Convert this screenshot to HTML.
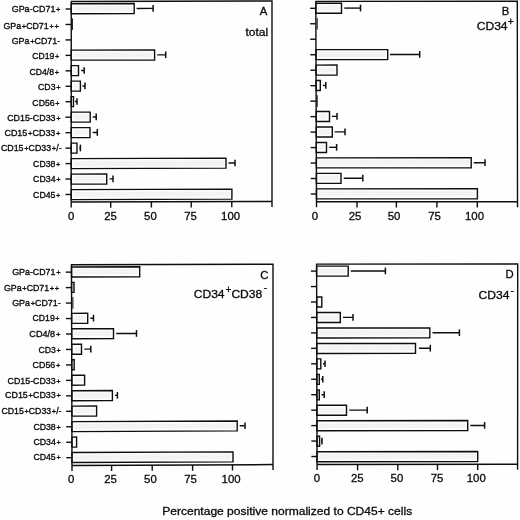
<!DOCTYPE html>
<html><head><meta charset="utf-8"><title>Figure</title>
<style>
html,body{margin:0;padding:0;background:#fefefe;}
body{width:520px;height:520px;overflow:hidden;}
svg{display:block;}
text{font-family:"Liberation Sans",Arial,Helvetica,sans-serif;fill:#0a0a0a;stroke:#0a0a0a;stroke-width:0.3px;}
.ln{stroke:#0e0e0e;}
.yl{font-size:9.0px;stroke-width:0.33px;}
.pl{font-size:7.6px;}
.xt{font-size:11.4px;}
.pt{font-size:11.3px;}
.sup{font-size:10.2px;}
</style></head>
<body>
<svg width="520" height="520" viewBox="0 0 520 520">
<defs><pattern id="dots" width="3" height="2.45" patternUnits="userSpaceOnUse"><rect width="3" height="2.45" fill="#f6f6f6"/><rect x="0.2" y="0.3" width="1.9" height="1.3" fill="#eeeeee"/></pattern></defs>
<rect x="0" y="0" width="520" height="520" fill="#fefefe"/>
<g class="ln" id="pA">
<path d="M71.25 3.70L134.20 3.54L134.20 13.54L71.25 13.70Z" fill="#fcfcfc" stroke-width="1.4"/>
<path d="M73.55 6.09L131.90 5.95L131.90 10.85L73.55 10.99Z" fill="url(#dots)" stroke="none"/>
<line x1="136.60" y1="8.44" x2="153.10" y2="8.39" stroke-width="1.4"/>
<line x1="153.10" y1="4.99" x2="153.10" y2="11.69" stroke-width="1.5"/>
<line x1="65.55" y1="9.00" x2="71.25" y2="9.00" stroke-width="1.4"/>
<line x1="72.40" y1="18.39" x2="72.40" y2="29.99" stroke-width="1.0"/>
<line x1="65.54" y1="24.46" x2="71.24" y2="24.46" stroke-width="1.4"/>
<line x1="65.54" y1="39.92" x2="71.24" y2="39.92" stroke-width="1.4"/>
<path d="M71.24 50.17L154.60 49.96L154.60 59.96L71.24 60.17Z" fill="#fcfcfc" stroke-width="1.4"/>
<path d="M73.54 52.57L152.30 52.36L152.30 57.26L73.54 57.47Z" fill="url(#dots)" stroke="none"/>
<line x1="157.20" y1="54.85" x2="165.70" y2="54.83" stroke-width="1.4"/>
<line x1="165.70" y1="51.43" x2="165.70" y2="58.13" stroke-width="1.5"/>
<line x1="65.54" y1="55.38" x2="71.24" y2="55.38" stroke-width="1.4"/>
<path d="M71.23 65.67L78.50 65.65L78.50 75.65L71.23 75.67Z" fill="#fcfcfc" stroke-width="1.4"/>
<path d="M73.53 68.06L76.20 68.05L76.20 72.95L73.53 72.96Z" fill="url(#dots)" stroke="none"/>
<line x1="81.20" y1="70.54" x2="84.20" y2="70.53" stroke-width="1.4"/>
<line x1="84.20" y1="67.13" x2="84.20" y2="73.83" stroke-width="1.5"/>
<line x1="65.53" y1="70.83" x2="71.23" y2="70.83" stroke-width="1.4"/>
<path d="M71.23 81.16L80.40 81.13L80.40 91.13L71.23 91.16Z" fill="#fcfcfc" stroke-width="1.4"/>
<path d="M73.53 83.55L78.10 83.54L78.10 88.44L73.53 88.45Z" fill="url(#dots)" stroke="none"/>
<line x1="82.40" y1="86.03" x2="85.00" y2="86.02" stroke-width="1.4"/>
<line x1="85.00" y1="82.62" x2="85.00" y2="89.32" stroke-width="1.5"/>
<line x1="65.53" y1="86.29" x2="71.23" y2="86.29" stroke-width="1.4"/>
<path d="M71.23 96.65L73.50 96.64L73.50 106.64L71.23 106.65Z" fill="#fcfcfc" stroke-width="1.4"/>
<line x1="75.00" y1="101.54" x2="77.00" y2="101.53" stroke-width="1.4"/>
<line x1="77.00" y1="98.13" x2="77.00" y2="104.83" stroke-width="1.5"/>
<line x1="65.53" y1="101.75" x2="71.23" y2="101.75" stroke-width="1.4"/>
<path d="M71.22 112.14L90.20 112.09L90.20 122.09L71.22 122.14Z" fill="#fcfcfc" stroke-width="1.4"/>
<path d="M73.52 114.54L87.90 114.50L87.90 119.40L73.52 119.44Z" fill="url(#dots)" stroke="none"/>
<line x1="92.70" y1="116.98" x2="96.20" y2="116.97" stroke-width="1.4"/>
<line x1="96.20" y1="113.57" x2="96.20" y2="120.27" stroke-width="1.5"/>
<line x1="65.52" y1="117.21" x2="71.22" y2="117.21" stroke-width="1.4"/>
<path d="M71.22 127.63L90.00 127.58L90.00 137.58L71.22 137.63Z" fill="#fcfcfc" stroke-width="1.4"/>
<path d="M73.52 130.03L87.70 129.99L87.70 134.89L73.52 134.93Z" fill="url(#dots)" stroke="none"/>
<line x1="92.70" y1="132.47" x2="97.30" y2="132.46" stroke-width="1.4"/>
<line x1="97.30" y1="129.06" x2="97.30" y2="135.76" stroke-width="1.5"/>
<line x1="65.52" y1="132.67" x2="71.22" y2="132.67" stroke-width="1.4"/>
<path d="M71.21 143.12L77.00 143.11L77.00 153.11L71.21 153.12Z" fill="#fcfcfc" stroke-width="1.4"/>
<line x1="79.30" y1="148.00" x2="80.40" y2="148.00" stroke-width="1.4"/>
<line x1="80.40" y1="144.60" x2="80.40" y2="151.30" stroke-width="1.5"/>
<line x1="65.51" y1="148.12" x2="71.21" y2="148.12" stroke-width="1.4"/>
<path d="M71.21 158.62L226.00 158.17L226.00 168.17L71.21 168.62Z" fill="#fcfcfc" stroke-width="1.4"/>
<path d="M73.51 161.01L223.70 160.58L223.70 165.47L73.51 165.91Z" fill="url(#dots)" stroke="none"/>
<line x1="228.50" y1="163.06" x2="235.00" y2="163.04" stroke-width="1.4"/>
<line x1="235.00" y1="159.64" x2="235.00" y2="166.34" stroke-width="1.5"/>
<line x1="65.51" y1="163.58" x2="71.21" y2="163.58" stroke-width="1.4"/>
<path d="M71.21 174.11L106.70 174.00L106.70 184.00L71.21 184.11Z" fill="#fcfcfc" stroke-width="1.4"/>
<path d="M73.51 176.50L104.40 176.41L104.40 181.31L73.51 181.40Z" fill="url(#dots)" stroke="none"/>
<line x1="109.60" y1="178.90" x2="113.00" y2="178.89" stroke-width="1.4"/>
<line x1="113.00" y1="175.49" x2="113.00" y2="182.19" stroke-width="1.5"/>
<line x1="65.51" y1="179.04" x2="71.21" y2="179.04" stroke-width="1.4"/>
<path d="M71.20 189.60L231.90 189.12L231.90 199.12L71.20 199.60Z" fill="#fcfcfc" stroke-width="1.4"/>
<path d="M73.50 191.99L229.60 191.53L229.60 196.43L73.50 196.89Z" fill="url(#dots)" stroke="none"/>
<line x1="65.50" y1="194.50" x2="71.20" y2="194.50" stroke-width="1.4"/>
<path d="M71.20 207.60L71.25 1.50L272.00 1.00L272.00 207.00" fill="none" stroke-width="1.4" stroke-linejoin="miter"/>
<line x1="71.20" y1="202.10" x2="272.00" y2="201.50" stroke-width="1.5"/>
<line x1="110.70" y1="201.98" x2="110.71" y2="207.68" stroke-width="1.4"/>
<line x1="151.40" y1="201.86" x2="151.41" y2="207.56" stroke-width="1.4"/>
<line x1="191.20" y1="201.74" x2="191.21" y2="207.44" stroke-width="1.4"/>
<line x1="231.80" y1="201.62" x2="231.81" y2="207.32" stroke-width="1.4"/>
</g>
<text class="xt" x="71.10" y="220.10" text-anchor="middle">0</text>
<text class="xt" x="110.50" y="220.10" text-anchor="middle">25</text>
<text class="xt" x="150.40" y="220.10" text-anchor="middle">50</text>
<text class="xt" x="190.60" y="220.10" text-anchor="middle">75</text>
<text class="xt" x="230.60" y="220.10" text-anchor="middle">100</text>
<text class="yl" id="ylA0" x="11.69" y="12.40" textLength="48.78" lengthAdjust="spacingAndGlyphs">GPa-CD71<tspan class="pl" dx="0.7">+</tspan></text>
<text class="yl" id="ylA1" x="3.44" y="28.85" textLength="55.33" lengthAdjust="spacingAndGlyphs">GPa<tspan class="pl" dx="0.7">+</tspan>CD71<tspan class="pl" dx="0.7">+</tspan><tspan class="pl" dx="0.7">+</tspan></text>
<text class="yl" id="ylA2" x="11.68" y="44.40" textLength="48.52" lengthAdjust="spacingAndGlyphs">GPa<tspan class="pl" dx="0.7">+</tspan>CD71-</text>
<text class="yl" id="ylA3" x="32.18" y="59.00" textLength="27.08" lengthAdjust="spacingAndGlyphs">CD19<tspan class="pl" dx="0.7">+</tspan></text>
<text class="yl" id="ylA4" x="29.41" y="75.40" textLength="29.50" lengthAdjust="spacingAndGlyphs">CD4/8<tspan class="pl" dx="0.7">+</tspan></text>
<text class="yl" id="ylA5" x="38.07" y="89.90" textLength="22.43" lengthAdjust="spacingAndGlyphs">CD3<tspan class="pl" dx="0.7">+</tspan></text>
<text class="yl" id="ylA6" x="32.35" y="105.50" textLength="27.22" lengthAdjust="spacingAndGlyphs">CD56<tspan class="pl" dx="0.7">+</tspan></text>
<text class="yl" id="ylA7" x="7.18" y="120.75" textLength="53.41" lengthAdjust="spacingAndGlyphs">CD15-CD33<tspan class="pl" dx="0.7">+</tspan></text>
<text class="yl" id="ylA8" x="4.45" y="135.90" textLength="56.02" lengthAdjust="spacingAndGlyphs">CD15<tspan class="pl" dx="0.7">+</tspan>CD33<tspan class="pl" dx="0.7">+</tspan></text>
<text class="yl" id="ylA9" x="0.88" y="151.30" textLength="60.70" lengthAdjust="spacingAndGlyphs">CD15<tspan class="pl" dx="0.7">+</tspan>CD33<tspan class="pl" dx="0.7">+</tspan>/-</text>
<text class="yl" id="ylA10" x="33.10" y="166.80" textLength="27.30" lengthAdjust="spacingAndGlyphs">CD38<tspan class="pl" dx="0.7">+</tspan></text>
<text class="yl" id="ylA11" x="33.10" y="181.50" textLength="27.52" lengthAdjust="spacingAndGlyphs">CD34<tspan class="pl" dx="0.7">+</tspan></text>
<text class="yl" id="ylA12" x="33.10" y="197.80" textLength="27.30" lengthAdjust="spacingAndGlyphs">CD45<tspan class="pl" dx="0.7">+</tspan></text>
<g class="ln" id="pB">
<path d="M315.82 3.20L341.50 3.19L341.50 13.19L315.82 13.20Z" fill="#fcfcfc" stroke-width="1.4"/>
<path d="M318.12 5.60L339.20 5.59L339.20 10.49L318.12 10.50Z" fill="url(#dots)" stroke="none"/>
<line x1="344.30" y1="8.09" x2="360.50" y2="8.09" stroke-width="1.4"/>
<line x1="360.50" y1="4.69" x2="360.50" y2="11.39" stroke-width="1.5"/>
<line x1="310.12" y1="8.30" x2="315.82" y2="8.30" stroke-width="1.4"/>
<line x1="317.20" y1="17.87" x2="317.20" y2="29.47" stroke-width="1.0"/>
<line x1="310.18" y1="23.77" x2="315.88" y2="23.77" stroke-width="1.4"/>
<line x1="310.23" y1="39.25" x2="315.93" y2="39.25" stroke-width="1.4"/>
<path d="M315.99 49.61L387.70 49.59L387.70 59.58L315.99 59.61Z" fill="#fcfcfc" stroke-width="1.4"/>
<path d="M318.29 52.01L385.40 51.99L385.40 56.89L318.29 56.91Z" fill="url(#dots)" stroke="none"/>
<line x1="390.00" y1="54.48" x2="419.70" y2="54.47" stroke-width="1.4"/>
<line x1="419.70" y1="51.07" x2="419.70" y2="57.77" stroke-width="1.5"/>
<line x1="310.29" y1="54.72" x2="315.99" y2="54.72" stroke-width="1.4"/>
<path d="M316.04 65.08L337.00 65.07L337.00 75.07L316.04 75.08Z" fill="#fcfcfc" stroke-width="1.4"/>
<path d="M318.34 67.48L334.70 67.48L334.70 72.38L318.34 72.38Z" fill="url(#dots)" stroke="none"/>
<line x1="310.34" y1="70.20" x2="316.04" y2="70.20" stroke-width="1.4"/>
<path d="M316.09 80.55L320.30 80.55L320.30 90.55L316.09 90.55Z" fill="#fcfcfc" stroke-width="1.4"/>
<line x1="322.80" y1="85.45" x2="325.80" y2="85.45" stroke-width="1.4"/>
<line x1="325.80" y1="82.05" x2="325.80" y2="88.75" stroke-width="1.5"/>
<line x1="310.39" y1="85.67" x2="316.09" y2="85.67" stroke-width="1.4"/>
<line x1="317.20" y1="95.23" x2="317.20" y2="106.83" stroke-width="1.0"/>
<line x1="310.45" y1="101.15" x2="316.15" y2="101.15" stroke-width="1.4"/>
<path d="M316.20 111.50L329.50 111.49L329.50 121.49L316.20 121.50Z" fill="#fcfcfc" stroke-width="1.4"/>
<path d="M318.50 113.89L327.20 113.89L327.20 118.79L318.50 118.79Z" fill="url(#dots)" stroke="none"/>
<line x1="332.00" y1="116.39" x2="337.00" y2="116.38" stroke-width="1.4"/>
<line x1="337.00" y1="112.98" x2="337.00" y2="119.68" stroke-width="1.5"/>
<line x1="310.50" y1="116.62" x2="316.20" y2="116.62" stroke-width="1.4"/>
<path d="M316.26 126.97L332.30 126.96L332.30 136.96L316.26 136.97Z" fill="#fcfcfc" stroke-width="1.4"/>
<path d="M318.56 129.37L330.00 129.36L330.00 134.26L318.56 134.27Z" fill="url(#dots)" stroke="none"/>
<line x1="334.60" y1="131.86" x2="345.00" y2="131.85" stroke-width="1.4"/>
<line x1="345.00" y1="128.45" x2="345.00" y2="135.15" stroke-width="1.5"/>
<line x1="310.56" y1="132.10" x2="316.26" y2="132.10" stroke-width="1.4"/>
<path d="M316.31 142.44L326.50 142.43L326.50 152.43L316.31 152.44Z" fill="#fcfcfc" stroke-width="1.4"/>
<path d="M318.61 144.84L324.20 144.83L324.20 149.73L318.61 149.74Z" fill="url(#dots)" stroke="none"/>
<line x1="329.20" y1="147.33" x2="336.60" y2="147.33" stroke-width="1.4"/>
<line x1="336.60" y1="143.93" x2="336.60" y2="150.63" stroke-width="1.5"/>
<line x1="310.61" y1="147.58" x2="316.31" y2="147.58" stroke-width="1.4"/>
<path d="M316.36 157.91L471.20 157.81L471.20 167.81L316.36 167.91Z" fill="#fcfcfc" stroke-width="1.4"/>
<path d="M318.66 160.31L468.90 160.21L468.90 165.11L318.66 165.21Z" fill="url(#dots)" stroke="none"/>
<line x1="473.80" y1="162.71" x2="485.00" y2="162.70" stroke-width="1.4"/>
<line x1="485.00" y1="159.30" x2="485.00" y2="166.00" stroke-width="1.5"/>
<line x1="310.66" y1="163.05" x2="316.36" y2="163.05" stroke-width="1.4"/>
<path d="M316.42 173.38L341.00 173.36L341.00 183.36L316.42 183.38Z" fill="#fcfcfc" stroke-width="1.4"/>
<path d="M318.72 175.78L338.70 175.76L338.70 180.66L318.72 180.68Z" fill="url(#dots)" stroke="none"/>
<line x1="343.80" y1="178.26" x2="362.80" y2="178.25" stroke-width="1.4"/>
<line x1="362.80" y1="174.85" x2="362.80" y2="181.55" stroke-width="1.5"/>
<line x1="310.72" y1="178.53" x2="316.42" y2="178.53" stroke-width="1.4"/>
<path d="M316.47 188.85L477.40 188.74L477.40 198.73L316.47 198.85Z" fill="#fcfcfc" stroke-width="1.4"/>
<path d="M318.77 191.25L475.10 191.14L475.10 196.03L318.77 196.15Z" fill="url(#dots)" stroke="none"/>
<line x1="310.77" y1="194.00" x2="316.47" y2="194.00" stroke-width="1.4"/>
<path d="M316.52 207.35L315.80 1.35L517.30 1.30L517.51 207.20" fill="none" stroke-width="1.4" stroke-linejoin="miter"/>
<line x1="316.50" y1="201.85" x2="517.50" y2="201.70" stroke-width="1.5"/>
<line x1="357.00" y1="201.82" x2="357.01" y2="207.52" stroke-width="1.4"/>
<line x1="396.40" y1="201.79" x2="396.41" y2="207.49" stroke-width="1.4"/>
<line x1="436.90" y1="201.76" x2="436.91" y2="207.46" stroke-width="1.4"/>
<line x1="477.30" y1="201.73" x2="477.31" y2="207.43" stroke-width="1.4"/>
</g>
<text class="xt" x="314.90" y="219.60" text-anchor="middle">0</text>
<text class="xt" x="355.00" y="219.60" text-anchor="middle">25</text>
<text class="xt" x="394.10" y="219.60" text-anchor="middle">50</text>
<text class="xt" x="434.60" y="219.60" text-anchor="middle">75</text>
<text class="xt" x="474.50" y="219.60" text-anchor="middle">100</text>
<g class="ln" id="pC">
<path d="M71.52 266.95L139.70 266.75L139.70 276.74L71.52 276.95Z" fill="#fcfcfc" stroke-width="1.4"/>
<path d="M73.82 269.34L137.40 269.15L137.40 274.05L73.82 274.24Z" fill="url(#dots)" stroke="none"/>
<line x1="65.82" y1="272.15" x2="71.52" y2="272.15" stroke-width="1.4"/>
<path d="M71.56 282.42L74.00 282.41L74.00 292.41L71.56 292.42Z" fill="#fcfcfc" stroke-width="1.4"/>
<line x1="65.86" y1="287.61" x2="71.56" y2="287.61" stroke-width="1.4"/>
<line x1="72.90" y1="297.08" x2="72.90" y2="308.68" stroke-width="1.0"/>
<line x1="65.90" y1="303.07" x2="71.60" y2="303.07" stroke-width="1.4"/>
<path d="M71.63 313.35L87.70 313.30L87.70 323.30L71.63 323.35Z" fill="#fcfcfc" stroke-width="1.4"/>
<path d="M73.93 315.74L85.40 315.70L85.40 320.60L73.93 320.64Z" fill="url(#dots)" stroke="none"/>
<line x1="90.30" y1="318.19" x2="93.50" y2="318.18" stroke-width="1.4"/>
<line x1="93.50" y1="314.78" x2="93.50" y2="321.48" stroke-width="1.5"/>
<line x1="65.93" y1="318.54" x2="71.63" y2="318.54" stroke-width="1.4"/>
<path d="M71.67 328.82L113.50 328.67L113.50 338.67L71.67 338.82Z" fill="#fcfcfc" stroke-width="1.4"/>
<path d="M73.97 331.21L111.20 331.08L111.20 335.98L73.97 336.11Z" fill="url(#dots)" stroke="none"/>
<line x1="116.20" y1="333.56" x2="136.50" y2="333.49" stroke-width="1.4"/>
<line x1="136.50" y1="330.09" x2="136.50" y2="336.79" stroke-width="1.5"/>
<line x1="65.97" y1="334.00" x2="71.67" y2="334.00" stroke-width="1.4"/>
<path d="M71.71 344.28L81.50 344.25L81.50 354.25L71.71 354.28Z" fill="#fcfcfc" stroke-width="1.4"/>
<path d="M74.01 346.68L79.20 346.66L79.20 351.56L74.01 351.58Z" fill="url(#dots)" stroke="none"/>
<line x1="84.30" y1="349.14" x2="90.80" y2="349.11" stroke-width="1.4"/>
<line x1="90.80" y1="345.71" x2="90.80" y2="352.41" stroke-width="1.5"/>
<line x1="66.01" y1="349.46" x2="71.71" y2="349.46" stroke-width="1.4"/>
<path d="M71.75 359.75L74.20 359.74L74.20 369.74L71.75 369.75Z" fill="#fcfcfc" stroke-width="1.4"/>
<line x1="66.05" y1="364.92" x2="71.75" y2="364.92" stroke-width="1.4"/>
<path d="M71.79 375.22L84.60 375.17L84.60 385.17L71.79 385.22Z" fill="#fcfcfc" stroke-width="1.4"/>
<path d="M74.09 377.61L82.30 377.58L82.30 382.48L74.09 382.51Z" fill="url(#dots)" stroke="none"/>
<line x1="66.09" y1="380.39" x2="71.79" y2="380.39" stroke-width="1.4"/>
<path d="M71.83 390.68L112.40 390.52L112.40 400.52L71.83 400.68Z" fill="#fcfcfc" stroke-width="1.4"/>
<path d="M74.13 393.07L110.10 392.93L110.10 397.83L74.13 397.97Z" fill="url(#dots)" stroke="none"/>
<line x1="115.00" y1="395.41" x2="117.40" y2="395.40" stroke-width="1.4"/>
<line x1="117.40" y1="392.00" x2="117.40" y2="398.70" stroke-width="1.5"/>
<line x1="66.13" y1="395.85" x2="71.83" y2="395.85" stroke-width="1.4"/>
<path d="M71.86 406.15L96.60 406.05L96.60 416.05L71.86 416.15Z" fill="#fcfcfc" stroke-width="1.4"/>
<path d="M74.16 408.54L94.30 408.46L94.30 413.36L74.16 413.44Z" fill="url(#dots)" stroke="none"/>
<line x1="66.17" y1="411.31" x2="71.87" y2="411.31" stroke-width="1.4"/>
<path d="M71.90 421.62L237.20 420.93L237.20 430.92L71.90 431.62Z" fill="#fcfcfc" stroke-width="1.4"/>
<path d="M74.20 424.01L234.90 423.34L234.90 428.23L74.20 428.91Z" fill="url(#dots)" stroke="none"/>
<line x1="239.70" y1="425.81" x2="245.00" y2="425.79" stroke-width="1.4"/>
<line x1="245.00" y1="422.39" x2="245.00" y2="429.09" stroke-width="1.5"/>
<line x1="66.20" y1="426.77" x2="71.90" y2="426.77" stroke-width="1.4"/>
<path d="M71.94 437.08L76.60 437.06L76.60 447.06L71.94 447.08Z" fill="#fcfcfc" stroke-width="1.4"/>
<line x1="66.24" y1="442.24" x2="71.94" y2="442.24" stroke-width="1.4"/>
<path d="M71.98 452.55L233.00 451.84L233.00 461.83L71.98 462.55Z" fill="#fcfcfc" stroke-width="1.4"/>
<path d="M74.28 454.94L230.70 454.25L230.70 459.15L74.28 459.84Z" fill="url(#dots)" stroke="none"/>
<line x1="66.28" y1="457.70" x2="71.98" y2="457.70" stroke-width="1.4"/>
<path d="M72.01 471.00L71.50 264.80L273.00 264.20L273.00 470.10" fill="none" stroke-width="1.4" stroke-linejoin="miter"/>
<line x1="72.00" y1="465.50" x2="273.00" y2="464.60" stroke-width="1.5"/>
<line x1="111.60" y1="465.32" x2="111.61" y2="471.02" stroke-width="1.4"/>
<line x1="152.20" y1="465.14" x2="152.21" y2="470.84" stroke-width="1.4"/>
<line x1="192.60" y1="464.96" x2="192.61" y2="470.66" stroke-width="1.4"/>
<line x1="232.50" y1="464.78" x2="232.51" y2="470.48" stroke-width="1.4"/>
</g>
<text class="xt" x="71.10" y="482.60" text-anchor="middle">0</text>
<text class="xt" x="110.50" y="482.60" text-anchor="middle">25</text>
<text class="xt" x="150.40" y="482.60" text-anchor="middle">50</text>
<text class="xt" x="190.60" y="482.60" text-anchor="middle">75</text>
<text class="xt" x="231.10" y="482.60" text-anchor="middle">100</text>
<text class="yl" id="ylC0" x="12.19" y="274.90" textLength="48.33" lengthAdjust="spacingAndGlyphs">GPa-CD71<tspan class="pl" dx="0.7">+</tspan></text>
<text class="yl" id="ylC1" x="4.03" y="291.10" textLength="55.18" lengthAdjust="spacingAndGlyphs">GPa<tspan class="pl" dx="0.7">+</tspan>CD71<tspan class="pl" dx="0.7">+</tspan><tspan class="pl" dx="0.7">+</tspan></text>
<text class="yl" id="ylC2" x="12.19" y="305.70" textLength="48.48" lengthAdjust="spacingAndGlyphs">GPa<tspan class="pl" dx="0.7">+</tspan>CD71-</text>
<text class="yl" id="ylC3" x="32.60" y="321.10" textLength="27.03" lengthAdjust="spacingAndGlyphs">CD19<tspan class="pl" dx="0.7">+</tspan></text>
<text class="yl" id="ylC4" x="29.35" y="337.10" textLength="31.06" lengthAdjust="spacingAndGlyphs">CD4/8<tspan class="pl" dx="0.7">+</tspan></text>
<text class="yl" id="ylC5" x="38.39" y="352.50" textLength="22.30" lengthAdjust="spacingAndGlyphs">CD3<tspan class="pl" dx="0.7">+</tspan></text>
<text class="yl" id="ylC6" x="32.57" y="368.30" textLength="27.76" lengthAdjust="spacingAndGlyphs">CD56<tspan class="pl" dx="0.7">+</tspan></text>
<text class="yl" id="ylC7" x="7.58" y="383.65" textLength="53.10" lengthAdjust="spacingAndGlyphs">CD15-CD33<tspan class="pl" dx="0.7">+</tspan></text>
<text class="yl" id="ylC8" x="5.03" y="398.40" textLength="55.82" lengthAdjust="spacingAndGlyphs">CD15<tspan class="pl" dx="0.7">+</tspan>CD33<tspan class="pl" dx="0.7">+</tspan></text>
<text class="yl" id="ylC9" x="1.42" y="413.70" textLength="60.11" lengthAdjust="spacingAndGlyphs">CD15<tspan class="pl" dx="0.7">+</tspan>CD33<tspan class="pl" dx="0.7">+</tspan>/-</text>
<text class="yl" id="ylC10" x="33.39" y="429.90" textLength="27.32" lengthAdjust="spacingAndGlyphs">CD38<tspan class="pl" dx="0.7">+</tspan></text>
<text class="yl" id="ylC11" x="33.39" y="445.20" textLength="27.49" lengthAdjust="spacingAndGlyphs">CD34<tspan class="pl" dx="0.7">+</tspan></text>
<text class="yl" id="ylC12" x="33.39" y="460.40" textLength="27.32" lengthAdjust="spacingAndGlyphs">CD45<tspan class="pl" dx="0.7">+</tspan></text>
<g class="ln" id="pD">
<path d="M316.62 266.15L348.20 266.13L348.20 276.13L316.62 276.15Z" fill="#fcfcfc" stroke-width="1.4"/>
<path d="M318.92 268.55L345.90 268.53L345.90 273.43L318.92 273.45Z" fill="url(#dots)" stroke="none"/>
<line x1="350.80" y1="271.02" x2="385.40" y2="271.00" stroke-width="1.4"/>
<line x1="385.40" y1="267.60" x2="385.40" y2="274.30" stroke-width="1.5"/>
<line x1="310.92" y1="271.10" x2="316.62" y2="271.10" stroke-width="1.4"/>
<line x1="310.95" y1="286.55" x2="316.65" y2="286.55" stroke-width="1.4"/>
<path d="M316.69 297.07L321.80 297.07L321.80 307.07L316.69 307.07Z" fill="#fcfcfc" stroke-width="1.4"/>
<line x1="310.98" y1="302.00" x2="316.68" y2="302.00" stroke-width="1.4"/>
<path d="M316.72 312.54L340.30 312.52L340.30 322.51L316.72 322.54Z" fill="#fcfcfc" stroke-width="1.4"/>
<path d="M319.02 314.94L338.00 314.92L338.00 319.82L319.02 319.84Z" fill="url(#dots)" stroke="none"/>
<line x1="343.00" y1="317.41" x2="353.00" y2="317.40" stroke-width="1.4"/>
<line x1="353.00" y1="314.00" x2="353.00" y2="320.70" stroke-width="1.5"/>
<line x1="311.02" y1="317.45" x2="316.72" y2="317.45" stroke-width="1.4"/>
<path d="M316.75 328.00L429.80 327.89L429.80 337.88L316.75 338.00Z" fill="#fcfcfc" stroke-width="1.4"/>
<path d="M319.05 330.40L427.50 330.29L427.50 335.19L319.05 335.30Z" fill="url(#dots)" stroke="none"/>
<line x1="432.50" y1="332.78" x2="459.40" y2="332.76" stroke-width="1.4"/>
<line x1="459.40" y1="329.36" x2="459.40" y2="336.06" stroke-width="1.5"/>
<line x1="311.05" y1="332.90" x2="316.75" y2="332.90" stroke-width="1.4"/>
<path d="M316.79 343.46L415.50 343.36L415.50 353.36L316.79 353.46Z" fill="#fcfcfc" stroke-width="1.4"/>
<path d="M319.09 345.86L413.20 345.76L413.20 350.66L319.09 350.76Z" fill="url(#dots)" stroke="none"/>
<line x1="419.00" y1="348.25" x2="430.30" y2="348.24" stroke-width="1.4"/>
<line x1="430.30" y1="344.84" x2="430.30" y2="351.54" stroke-width="1.5"/>
<line x1="311.09" y1="348.35" x2="316.79" y2="348.35" stroke-width="1.4"/>
<path d="M316.82 358.92L320.80 358.92L320.80 368.92L316.82 368.92Z" fill="#fcfcfc" stroke-width="1.4"/>
<line x1="323.00" y1="363.82" x2="325.00" y2="363.82" stroke-width="1.4"/>
<line x1="325.00" y1="360.42" x2="325.00" y2="367.12" stroke-width="1.5"/>
<line x1="311.12" y1="363.80" x2="316.82" y2="363.80" stroke-width="1.4"/>
<path d="M316.86 374.39L319.30 374.38L319.30 384.38L316.86 384.39Z" fill="#fcfcfc" stroke-width="1.4"/>
<line x1="321.00" y1="379.28" x2="322.80" y2="379.28" stroke-width="1.4"/>
<line x1="322.80" y1="375.88" x2="322.80" y2="382.58" stroke-width="1.5"/>
<line x1="311.16" y1="379.25" x2="316.86" y2="379.25" stroke-width="1.4"/>
<path d="M316.89 389.85L319.30 389.85L319.30 399.85L316.89 399.85Z" fill="#fcfcfc" stroke-width="1.4"/>
<line x1="321.50" y1="394.74" x2="324.20" y2="394.74" stroke-width="1.4"/>
<line x1="324.20" y1="391.34" x2="324.20" y2="398.04" stroke-width="1.5"/>
<line x1="311.19" y1="394.70" x2="316.89" y2="394.70" stroke-width="1.4"/>
<path d="M316.93 405.31L346.50 405.27L346.50 415.27L316.93 415.31Z" fill="#fcfcfc" stroke-width="1.4"/>
<path d="M319.23 407.71L344.20 407.68L344.20 412.58L319.23 412.61Z" fill="url(#dots)" stroke="none"/>
<line x1="349.20" y1="410.17" x2="367.20" y2="410.15" stroke-width="1.4"/>
<line x1="367.20" y1="406.75" x2="367.20" y2="413.45" stroke-width="1.5"/>
<line x1="311.23" y1="410.15" x2="316.93" y2="410.15" stroke-width="1.4"/>
<path d="M316.96 420.77L467.70 420.57L467.70 430.57L316.96 430.77Z" fill="#fcfcfc" stroke-width="1.4"/>
<path d="M319.26 423.17L465.40 422.98L465.40 427.87L319.26 428.07Z" fill="url(#dots)" stroke="none"/>
<line x1="470.30" y1="425.47" x2="484.60" y2="425.45" stroke-width="1.4"/>
<line x1="484.60" y1="422.05" x2="484.60" y2="428.75" stroke-width="1.5"/>
<line x1="311.26" y1="425.60" x2="316.96" y2="425.60" stroke-width="1.4"/>
<path d="M317.00 436.24L319.60 436.23L319.60 446.23L317.00 446.24Z" fill="#fcfcfc" stroke-width="1.4"/>
<line x1="321.00" y1="441.13" x2="322.00" y2="441.13" stroke-width="1.4"/>
<line x1="322.00" y1="437.73" x2="322.00" y2="444.43" stroke-width="1.5"/>
<line x1="311.30" y1="441.05" x2="317.00" y2="441.05" stroke-width="1.4"/>
<path d="M317.03 451.70L477.70 451.47L477.70 461.46L317.03 461.70Z" fill="#fcfcfc" stroke-width="1.4"/>
<path d="M319.33 454.10L475.40 453.87L475.40 458.77L319.33 459.00Z" fill="url(#dots)" stroke="none"/>
<line x1="311.33" y1="456.50" x2="317.03" y2="456.50" stroke-width="1.4"/>
<path d="M317.06 470.10L316.60 264.15L517.70 264.00L517.60 469.80" fill="none" stroke-width="1.4" stroke-linejoin="miter"/>
<line x1="317.05" y1="464.60" x2="517.60" y2="464.30" stroke-width="1.5"/>
<line x1="357.60" y1="464.54" x2="357.61" y2="470.24" stroke-width="1.4"/>
<line x1="397.80" y1="464.48" x2="397.81" y2="470.18" stroke-width="1.4"/>
<line x1="437.50" y1="464.42" x2="437.51" y2="470.12" stroke-width="1.4"/>
<line x1="477.70" y1="464.36" x2="477.71" y2="470.06" stroke-width="1.4"/>
</g>
<text class="xt" x="316.90" y="482.00" text-anchor="middle">0</text>
<text class="xt" x="357.25" y="482.00" text-anchor="middle">25</text>
<text class="xt" x="396.90" y="482.00" text-anchor="middle">50</text>
<text class="xt" x="437.00" y="482.00" text-anchor="middle">75</text>
<text class="xt" x="476.30" y="482.00" text-anchor="middle">100</text>
<text class="pt" x="267.20" y="15.20" text-anchor="end">A</text>
<text class="pt" x="245.40" y="35.60" textLength="22.80" lengthAdjust="spacingAndGlyphs">total</text>
<text class="pt" x="509.20" y="15.40" text-anchor="end">B</text>
<text class="pt" x="476.70" y="29.80" textLength="30.90" lengthAdjust="spacingAndGlyphs">CD34</text>
<text class="sup" x="507.70" y="24.60">+</text>
<text class="pt" x="268.30" y="278.60" text-anchor="end">C</text>
<text class="pt" x="193.70" y="297.50" textLength="30.90" lengthAdjust="spacingAndGlyphs">CD34</text>
<text class="sup" x="225.40" y="293.20">+</text>
<text class="pt" x="231.40" y="297.50" textLength="30.90" lengthAdjust="spacingAndGlyphs">CD38</text>
<text class="sup" x="263.80" y="291.40">-</text>
<text class="pt" x="513.60" y="277.50" text-anchor="end">D</text>
<text class="pt" x="478.50" y="298.80" textLength="30.90" lengthAdjust="spacingAndGlyphs">CD34</text>
<text class="sup" x="510.50" y="293.80">-</text>
<text class="pt" x="162.20" y="515.30" textLength="250.00" lengthAdjust="spacingAndGlyphs">Percentage positive normalized to CD45+ cells</text>
</svg>
</body></html>
